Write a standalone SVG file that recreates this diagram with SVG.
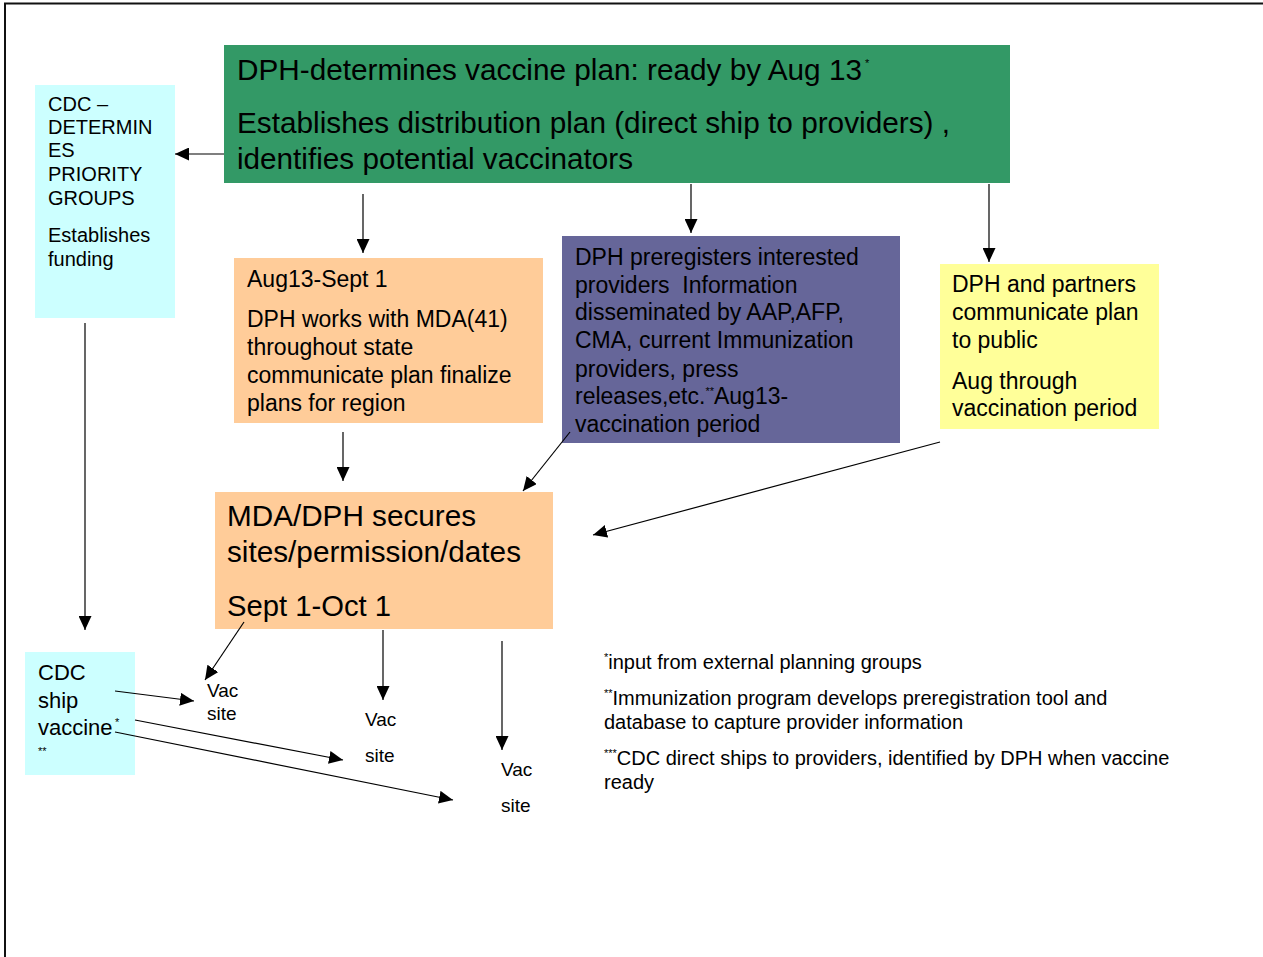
<svg xmlns="http://www.w3.org/2000/svg" width="1263" height="957" viewBox="0 0 1263 957">
<style>
text { font-family: "Liberation Sans", Arial, sans-serif; fill: #000; }
.g { font-size: 29px; }
.c { font-size: 20px; }
.m { font-size: 23px; }
.big { font-size: 29px; }
.v { font-size: 19px; }
.f { font-size: 20px; }
.sup { font-size: 11px; }
.conn line { stroke: #000; stroke-width: 1.2; marker-end: url(#arr); }
</style>
<defs>
<marker id="arr" markerUnits="userSpaceOnUse" markerWidth="14" markerHeight="13" refX="14" refY="6.5" orient="auto">
<path d="M0,0 L14,6.5 L0,13 z" fill="#000"/>
</marker>
</defs>
<rect x="0" y="0" width="1263" height="957" fill="#fff"/>
<rect x="5" y="3.5" width="1300" height="1000" fill="none" stroke="#111" stroke-width="2"/>

<g id="dph-plan">
<rect x="224" y="45" width="786" height="138" fill="#339966"/>
<text class="g" x="237" y="80" textLength="625" lengthAdjust="spacingAndGlyphs">DPH-determines vaccine plan: ready by Aug 13</text>
<text class="sup" x="865" y="67">*</text>
<text class="g" x="237" y="133" textLength="713" lengthAdjust="spacingAndGlyphs">Establishes distribution plan (direct ship to providers) ,</text>
<text class="g" x="237" y="169" textLength="396" lengthAdjust="spacingAndGlyphs">identifies potential vaccinators</text>
</g>

<g id="cdc-priority">
<rect x="35" y="85" width="140" height="233" fill="#CCFFFF"/>
<text class="c" x="48" y="111">CDC –</text>
<text class="c" x="48" y="134">DETERMIN</text>
<text class="c" x="48" y="157">ES</text>
<text class="c" x="48" y="181">PRIORITY</text>
<text class="c" x="48" y="205">GROUPS</text>
<text class="c" x="48" y="242">Establishes</text>
<text class="c" x="48" y="266">funding</text>
</g>

<g id="dph-mda">
<rect x="234" y="258" width="309" height="165" fill="#FFCC99"/>
<text class="m" x="247" y="287">Aug13-Sept 1</text>
<text class="m" x="247" y="327">DPH works with MDA(41)</text>
<text class="m" x="247" y="355">throughout state</text>
<text class="m" x="247" y="383">communicate plan finalize</text>
<text class="m" x="247" y="411">plans for region</text>
</g>

<g id="dph-preregisters">
<rect x="562" y="236" width="338" height="207" fill="#666699"/>
<text class="m" x="575" y="265">DPH preregisters interested</text>
<text class="m" x="575" y="293" xml:space="preserve">providers  Information</text>
<text class="m" x="575" y="320">disseminated by AAP,AFP,</text>
<text class="m" x="575" y="348">CMA, current Immunization</text>
<text class="m" x="575" y="377">providers, press</text>
<text class="m" x="575" y="404">releases,etc.<tspan class="sup" dy="-9">**</tspan><tspan dy="9">Aug13-</tspan></text>
<text class="m" x="575" y="432">vaccination period</text>
</g>

<g id="dph-partners">
<rect x="940" y="264" width="219" height="165" fill="#FFFF99"/>
<text class="m" x="952" y="292">DPH and partners</text>
<text class="m" x="952" y="320">communicate plan</text>
<text class="m" x="952" y="348">to public</text>
<text class="m" x="952" y="389">Aug through</text>
<text class="m" x="952" y="416">vaccination period</text>
</g>

<g id="mda-secures">
<rect x="215" y="492" width="338" height="137" fill="#FFCC99"/>
<text class="big" x="227" y="526" textLength="249" lengthAdjust="spacingAndGlyphs">MDA/DPH secures</text>
<text class="big" x="227" y="562" textLength="294" lengthAdjust="spacingAndGlyphs">sites/permission/dates</text>
<text class="big" x="227" y="616" textLength="164" lengthAdjust="spacingAndGlyphs">Sept 1-Oct 1</text>
</g>

<g id="cdc-ship">
<rect x="25" y="652" width="110" height="123" fill="#CCFFFF"/>
<text style="font-size:22px" x="38" y="680">CDC</text>
<text style="font-size:22px" x="38" y="708">ship</text>
<text style="font-size:22px" x="38" y="735">vaccine</text>
<text class="sup" x="115" y="726">*</text>
<text class="sup" x="38" y="755">**</text>
</g>

<g id="vac-site-1">
<text class="v" x="207" y="697">Vac</text>
<text class="v" x="207" y="720">site</text>
</g>
<g id="vac-site-2">
<text class="v" x="365" y="726">Vac</text>
<text class="v" x="365" y="762">site</text>
</g>
<g id="vac-site-3">
<text class="v" x="501" y="776">Vac</text>
<text class="v" x="501" y="812">site</text>
</g>

<g id="footnotes">
<text class="f" x="604" y="669"><tspan class="sup" dy="-8">*</tspan><tspan dy="8">input from external planning groups</tspan></text>
<text class="f" x="604" y="705"><tspan class="sup" dy="-8">**</tspan><tspan dy="8">Immunization program develops preregistration tool and</tspan></text>
<text class="f" x="604" y="729">database to capture provider information</text>
<text class="f" x="604" y="765"><tspan class="sup" dy="-8">***</tspan><tspan dy="8">CDC direct ships to providers, identified by DPH when vaccine</tspan></text>
<text class="f" x="604" y="789">ready</text>
</g>

<g id="connectors" class="conn">
<line x1="224" y1="154" x2="175" y2="154"/>
<line x1="363" y1="194" x2="363" y2="253"/>
<line x1="691" y1="184" x2="691" y2="233"/>
<line x1="989" y1="184" x2="989" y2="262"/>
<line x1="85" y1="323" x2="85" y2="630"/>
<line x1="343" y1="432" x2="343" y2="481"/>
<line x1="570" y1="432" x2="523" y2="491"/>
<line x1="940" y1="442" x2="593" y2="535"/>
<line x1="244" y1="622" x2="205" y2="680"/>
<line x1="383" y1="630" x2="383" y2="700"/>
<line x1="502" y1="641" x2="502" y2="750"/>
<line x1="115" y1="691" x2="194" y2="701"/>
<line x1="135" y1="720" x2="343" y2="760"/>
<line x1="115" y1="732" x2="453" y2="800"/>
</g>
</svg>
